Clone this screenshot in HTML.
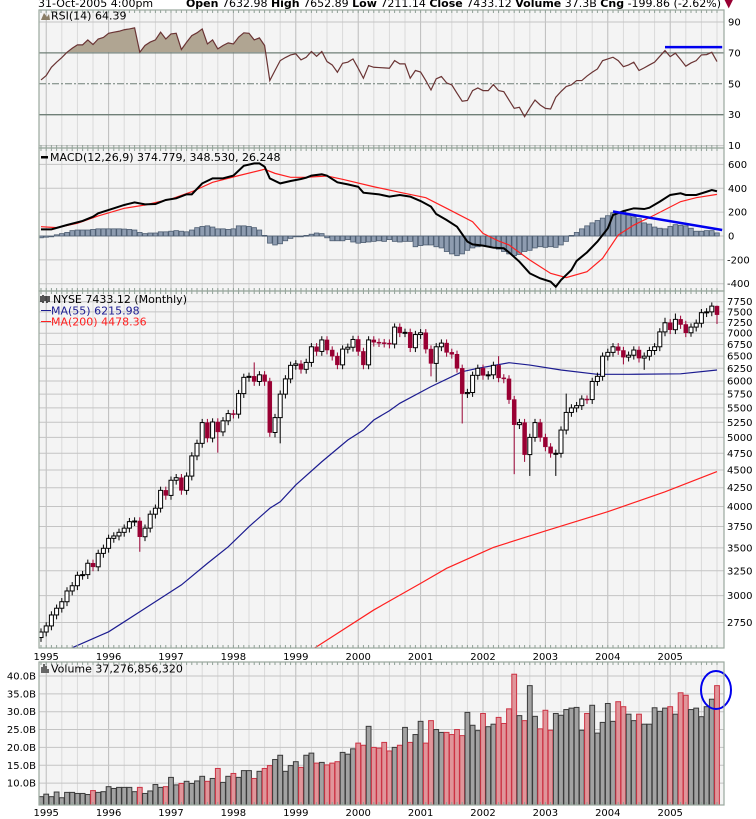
<!DOCTYPE html>
<html><head><meta charset="utf-8"><style>
html,body{margin:0;padding:0;background:#fff;}
svg{display:block;font-family:"DejaVu Sans","Liberation Sans",sans-serif;}
</style></head><body>
<svg id="chart" width="756" height="819" viewBox="0 0 756 819" xmlns="http://www.w3.org/2000/svg">
<defs>
<clipPath id="cRsi"><rect x="39" y="10" width="685" height="138"/></clipPath>
<clipPath id="cRsiTop"><rect x="39" y="10" width="685" height="42.1"/></clipPath>
<clipPath id="cMacd"><rect x="39" y="148" width="685" height="143"/></clipPath>
<clipPath id="cPrice"><rect x="39" y="291" width="685" height="357"/></clipPath>
<clipPath id="cVol"><rect x="39" y="662" width="685" height="143"/></clipPath>
</defs>
<g id="layer"></g>
<text x="38" y="7" font-size="11" fill="#000">31-Oct-2005 4:00pm</text>
<text x="733" y="7" font-size="11" text-anchor="end" fill="#000"><tspan font-weight="bold">Open</tspan> 7632.98 <tspan font-weight="bold">High</tspan> 7652.89 <tspan font-weight="bold">Low</tspan> 7211.14 <tspan font-weight="bold">Close</tspan> 7433.12 <tspan font-weight="bold">Volume</tspan> 37.3B <tspan font-weight="bold">Cng</tspan> -199.86 (-2.62%) <tspan fill="#990033">▼</tspan></text>
</svg>
<script>
// ---- data ----
const closes=[2667,2720,2818,2880,2941,3045,3097,3203,3210,3330,
3292,3438,3495,3609,3637,3680,3730,3809,3817,3628,
3730,3902,3978,4214,4146,4354,4390,4214,4413,4710,
4905,5245,4990,5255,5090,5275,5400,5390,5760,6070,
6090,5990,6120,5990,5080,5330,5750,6040,6310,6340,
6230,6370,6700,6600,6850,6630,6500,6320,6650,6690,
6860,6600,6320,6850,6800,6790,6780,6760,7140,7010,
7020,6680,6970,7010,6650,6350,6700,6780,6580,6540,
6250,5760,5780,6110,6250,6110,6120,6310,6060,6040,
5650,5210,5245,4730,5000,5245,5000,4850,4750,4750,
5120,5420,5500,5540,5660,5650,5990,6090,6500,6580,
6700,6620,6480,6520,6630,6460,6500,6620,6700,7030,
7240,7080,7320,7200,7010,7140,7230,7480,7500,7640,7433];
const firstOpen=2620;
const wickIdx=[19,34,41,45,46,75,76,81,88,91,93,94,99,101,112,116,120,122,125,130];
const wickHigh=[null,null,6370,null,null,null,null,null,6500,null,null,null,null,5760,null,null,7360,7460,null,7653];
const wickLow=[3456,4760,null,5000,4905,6090,5980,5230,null,4440,4620,4415,4415,null,6330,6220,null,null,6920,7211];
const rsi=[52.5,55.3,60.7,64,67,70.4,73,75.2,75.2,78.4,
75.4,79,80,82.7,83.4,84,85,85.5,86.2,70.4,
74.8,77,78.4,83.4,79,82.3,82.7,72.2,76.9,81.2,
83,85.5,75.8,78.4,72.6,74.8,76.5,75.8,80.2,83,
82.7,78.4,79.7,74.8,52.1,58.6,65,67,68.7,69.4,
65.5,67.2,70.9,67.8,70.9,64.4,62.2,57.5,63.3,64,
66.1,60,53.6,61.8,60.7,60.5,60.3,60.1,65,62.9,
62.9,53.6,58.6,57.6,52.1,46,53.2,54.7,50.6,49.3,
43.9,38.7,39.2,45.6,47.3,45.6,45.6,49.5,45.6,44.9,
39.5,34.1,34.8,28.7,34.4,39.5,36.3,34.1,33.7,41.3,
45,48.2,49.3,52.1,52.1,55,57.5,59.6,65,66.1,
67.2,65,61.1,62.2,64,58.6,60.3,62.2,64,67.8,
71.5,67.6,69.8,65.7,61.4,63.5,65,68.7,68.9,70.4,64.4];
const macdIdx=[0,2,5,8,10,11,14,16,18,20,22,24,26,28,29,31,33,35,37,39,41,42,43,44,46,48,50,51,52,54,55,57,59,61,62,65,67,69,71,73,75,76,78,80,82,83,85,87,89,90,92,94,96,98,99,100,102,103,105,107,109,110,112,114,116,117,119,121,123,124,126,128,129,130];
const macdVal=[56,56,92,126,162,190,232,260,282,265,268,302,316,349,349,441,483,483,506,589,609,609,581,483,441,461,478,489,506,517,506,450,433,413,363,349,330,344,330,293,246,184,134,78,-47,-70,-81,-98,-103,-137,-215,-313,-355,-383,-425,-369,-285,-209,-137,-47,64,176,209,232,226,237,288,344,358,344,344,371,385,375];
const sigIdx=[0,3,7,11,16,20,25,29,33,38,43,45,48,51,55,58,64,69,74,78,83,85,88,90,94,98,101,105,108,111,114,118,123,126,130];
const sigVal=[78,70,106,168,232,260,310,371,450,506,559,525,492,492,503,475,413,366,321,232,120,22,-42,-75,-201,-313,-349,-299,-187,8,92,176,288,321,349];
const hist=[-15,-10,-5,10,20,30,45,50,50,50,55,
60,60,60,60,60,58,55,50,30,20,
25,25,35,35,40,45,40,35,50,70,
80,85,75,60,60,55,60,85,85,80,
70,50,5,-60,-75,-65,-40,-20,-5,0,
5,15,25,20,-15,-40,-40,-40,-30,-50,
-60,-55,-50,-45,-40,-45,-30,-45,-50,-45,
-45,-90,-80,-75,-75,-90,-100,-130,-150,-165,
-150,-120,-100,-90,-85,-85,-95,-110,-130,-150,
-165,-155,-130,-120,-100,-90,-95,-90,-95,-75,
-45,5,30,60,85,110,130,150,170,195,
200,205,175,160,145,110,100,75,65,60,
80,95,90,85,65,40,40,45,45,26];
const ma55Idx=[4,6,13,19,27,32,36,40,44,46,49,54,59,62,64,67,69,75,81,84,90,94,100,107,113,123,130];
const ma55Val=[2450,2535,2669,2847,3105,3329,3512,3748,3977,4062,4288,4622,4958,5120,5289,5450,5582,5891,6182,6250,6364,6316,6216,6130,6130,6140,6216];
const ma200Idx=[51,53,64,73,78,87,97,109,120,130];
const ma200Val=[2490,2543,2864,3121,3276,3505,3697,3933,4195,4478];
const volume=[6.2,6.9,6.2,7.5,5.9,7.4,7.4,7.1,7.1,6.8,
7.9,7.4,7.6,9.0,8.5,8.8,8.8,8.8,7.6,8.8,
7.1,7.8,9.6,8.8,9.0,11.6,9.5,9.9,10.5,9.9,
10.6,11.9,10.5,11.3,14.1,10.2,11.9,12.7,11.6,13.5,
13.5,11.3,13.3,14.1,14.9,16.6,17.8,13.3,14.9,16.0,
14.4,17.8,18.4,15.6,15.8,15.1,15.6,16.0,18.6,18.1,
19.6,21.2,20.6,25.9,20.0,19.8,21.4,19.0,20.0,20.6,
25.6,21.4,23.6,27.3,21.2,27.5,25.0,24.2,24.2,23.6,
25.0,23.3,29.8,26.2,24.7,29.5,25.8,26.5,28.4,26.7,
30.8,40.5,28.9,27.5,37.3,28.7,25.2,30.4,24.8,29.5,
29.0,30.6,31.0,31.2,24.8,29.5,31.8,24.0,27.0,32.3,
27.3,32.8,31.4,29.3,27.5,29.3,26.5,26.5,31.1,30.1,
31.0,31.4,29.3,35.3,34.6,30.6,31.0,28.6,31.4,33.5,37.3];
const years=["1995","1996","1997","1998","1999","2000","2001","2002","2003","2004","2005"];
const priceTicks=[7750,7500,7250,7000,6750,6500,6250,6000,5750,5500,5250,5000,4750,4500,4250,4000,3750,3500,3250,3000,2750];
const rsiTicks=[90,70,50,30,10];
const macdTicks=[600,400,200,0,-200,-400];
const volTicks=[40,35,30,25,20,15,10];
const rsiTrend=[120,131,73.7,73.7];
const macdTrend=[110,131,205,50];

// ---- scales ----
const L=39,R=724;
const xAt=i=>41+5.2*i;
const yP=p=>301.7+(Math.log10(7750)-Math.log10(p))*713;
const yR=v=>22+(90-v)*1.545;
const yM=v=>236-v*0.1193;
const yV=v=>676+(40-v)*3.57;
const NS="http://www.w3.org/2000/svg";
const layer=document.getElementById('layer');
function mk(tag,a,parent){const e=document.createElementNS(NS,tag);for(const k in a)e.setAttribute(k,a[k]);(parent||layer).appendChild(e);return e;}
function grp(clip){const g=mk('g',clip?{'clip-path':'url(#'+clip+')'}:{});return g;}

const panels=[[10,148,'rsi-panel'],[148,291,'macd-panel'],[291,648,'price-panel'],[662,805,'volume-panel']];
panels.forEach(p=>{
  const r=mk('rect',{x:L,y:p[0],width:R-L,height:p[1]-p[0],fill:'#f4f4f4'});
  
  
  for(let q=0;;q++){const x=xAt(1)+15.6*q;if(x>R)break;
    mk('line',{x1:x,x2:x,y1:p[0],y2:p[1],stroke:q%4==0?'#bcbcbc':'#dadada','stroke-width':1});}
});
priceTicks.forEach(t=>mk('line',{x1:L,x2:R,y1:yP(t),y2:yP(t),stroke:'#c4c4c4'}));
macdTicks.forEach(t=>mk('line',{x1:L,x2:R,y1:yM(t),y2:yM(t),stroke:'#c4c4c4'}));
volTicks.forEach(t=>mk('line',{x1:L,x2:R,y1:yV(t),y2:yV(t),stroke:'#c4c4c4'}));
rsiTicks.forEach(t=>{const a={x1:L,x2:R,y1:yR(t),y2:yR(t),stroke:(t==70||t==30)?'#6f7f77':'#c4c4c4','stroke-width':(t==70||t==30)?1.3:1};
  if(t==50){a.stroke='#6f7f77';a['stroke-dasharray']='7,2,2,2';}mk('line',a);});

// RSI
const gR=grp('cRsi');
const rp=rsi.map((v,i)=>xAt(i)+','+yR(v)).join(' ');
const gTop=mk('g',{'clip-path':'url(#cRsiTop)'},gR);
const fillPoly=mk('polygon',{points:xAt(0)+','+yR(70)+' '+rp+' '+xAt(rsi.length-1)+','+yR(70),fill:'#b0a592'},gTop);


const rl=mk('polyline',{points:rp,fill:'none',stroke:'#6a3434','stroke-width':1.2},gR);


const rt=mk('line',{x1:xAt(rsiTrend[0]),x2:xAt(rsiTrend[1]),y1:yR(rsiTrend[2]),y2:yR(rsiTrend[3]),stroke:'#0000ee','stroke-width':2.5});



// MACD
const gM=grp('cMacd');
hist.forEach((v,i)=>{const y0=yM(0),y1=yM(v);
  const b=mk('rect',{x:xAt(i)-2.3,y:Math.min(y0,y1),width:4.6,height:Math.max(0.8,Math.abs(y1-y0)),fill:'#8e9cb0',stroke:'#4e5e72','stroke-width':0.8},gM);
  
  });
const sl=mk('polyline',{points:sigIdx.map((k,j)=>xAt(k)+','+yM(sigVal[j])).join(' '),fill:'none',stroke:'#ff2020','stroke-width':1.2},gM);


const ml=mk('polyline',{points:macdIdx.map((k,j)=>xAt(k)+','+yM(macdVal[j])).join(' '),fill:'none',stroke:'#000','stroke-width':2},gM);


const mt=mk('line',{x1:xAt(macdTrend[0]),x2:xAt(macdTrend[1]),y1:yM(macdTrend[2]),y2:yM(macdTrend[3]),stroke:'#0000ee','stroke-width':2.5});



// Price
const gP=grp('cPrice');
const m55=mk('polyline',{points:ma55Idx.map((k,j)=>xAt(k)+','+yP(ma55Val[j])).join(' '),fill:'none',stroke:'#1c1c90','stroke-width':1.2},gP);


const m200=mk('polyline',{points:ma200Idx.map((k,j)=>xAt(k)+','+yP(ma200Val[j])).join(' '),fill:'none',stroke:'#ff2020','stroke-width':1.2},gP);


closes.forEach((c,i)=>{
  const o=i==0?firstOpen:closes[i-1];
  const up=c>=o;
  let hi=Math.max(o,c)*1.012, lo=Math.min(o,c)*0.986;
  const w=wickIdx.indexOf(i);
  if(w>=0){if(wickHigh[w]!=null)hi=wickHigh[w];if(wickLow[w]!=null)lo=wickLow[w];}
  const col=up?'#000':'#990033';
  const x=xAt(i);
  const wk=mk('line',{x1:x,x2:x,y1:yP(hi),y2:yP(lo),stroke:col,'stroke-width':1},gP);
  
  
  const yt=yP(Math.max(o,c)),yb=yP(Math.min(o,c));
  const bd=mk('rect',{x:x-2,y:yt,width:4,height:Math.max(1,yb-yt),fill:up?'#fff':'#990033',stroke:col,'stroke-width':up?1:0.5},gP);
  
  
});

// Volume
const gV=grp('cVol');
volume.forEach((v,i)=>{const o=i==0?firstOpen:closes[i-1];const up=closes[i]>=o;
  const b=mk('rect',{x:xAt(i)-2.4,y:yV(v),width:4.8,height:806-yV(v),fill:up?'#a2a2a2':'#e0959a',stroke:up?'#3a3a3a':'#cc3344','stroke-width':1},gV);
  
  });
const ell=mk('ellipse',{cx:716,cy:690,rx:15,ry:19,fill:'none',stroke:'#0000ee','stroke-width':2});



panels.forEach(p=>{
  for(let i=0;i<closes.length;i++){const x=xAt(i);
    mk('line',{x1:x,x2:x,y1:p[0],y2:p[0]+3,stroke:'#8fa096'});
    mk('line',{x1:x,x2:x,y1:p[1]-3,y2:p[1],stroke:'#8fa096'});}
  mk('rect',{x:L,y:p[0],width:R-L,height:p[1]-p[0],fill:'none',stroke:'#9aa89e','stroke-width':1.2});
});

function txt(s,x,y,o,name){const t=mk('text',Object.assign({x:x,y:y,'font-size':10,fill:'#000'},o||{}));t.textContent=s;
  
  return t;}
rsiTicks.forEach(t=>txt(String(t),728,yR(t)+3.5,{},'rsi-tick-label'));
macdTicks.forEach(t=>txt(String(t),t<0?727:728,yM(t)+3.5,{},'macd-tick-label'));
priceTicks.forEach(t=>txt(String(t),727,yP(t)+3.5,{},'price-tick-label'));
volTicks.forEach(t=>txt(t.toFixed(1)+'B',36,yV(t)+3.5,{'text-anchor':'end'},'volume-tick-label'));
years.forEach((y,k)=>{const x=xAt(1+12*k);
  txt(y,x,660,{'text-anchor':'middle'},'x-axis-year-label');
  txt(y,x,816,{'text-anchor':'middle'},'volume-x-axis-year-label');});

mk('polygon',{points:'41,20 44,13 47,17 49,14 50,20',fill:'#8a7d66'});
txt('RSI(14) 64.39',51,19.5,{'font-size':11},'rsi-legend');
mk('rect',{x:41,y:156,width:7,height:2.5,fill:'#000'});
txt('MACD(12,26,9) 374.779, 348.530, 26.248',50,161,{'font-size':11},'macd-legend');
mk('path',{d:'M41,302 v-6 M43,303 v-8 M45,301 v-5 M47,303 v-7 M49,302 v-6',stroke:'#000','stroke-width':1.3});
txt('NYSE 7433.12 (Monthly)',53,303,{'font-size':11},'price-legend');
mk('line',{x1:41,x2:51,y1:310.5,y2:310.5,stroke:'#1c1c90'});
txt('MA(55) 6215.98',51,314.5,{'font-size':11,fill:'#1c1c90'},'ma55-legend');
mk('line',{x1:41,x2:51,y1:321.5,y2:321.5,stroke:'#ff2020'});
txt('MA(200) 4478.36',51,325.5,{'font-size':11,fill:'#ff2020'},'ma200-legend');
mk('path',{d:'M42,673 v-6 M44,673 v-9 M46,673 v-7 M48,673 v-4',stroke:'#444','stroke-width':1.6});
txt('Volume 37,276,856,320',51,672.5,{'font-size':11},'volume-legend');
</script>
</body></html>
